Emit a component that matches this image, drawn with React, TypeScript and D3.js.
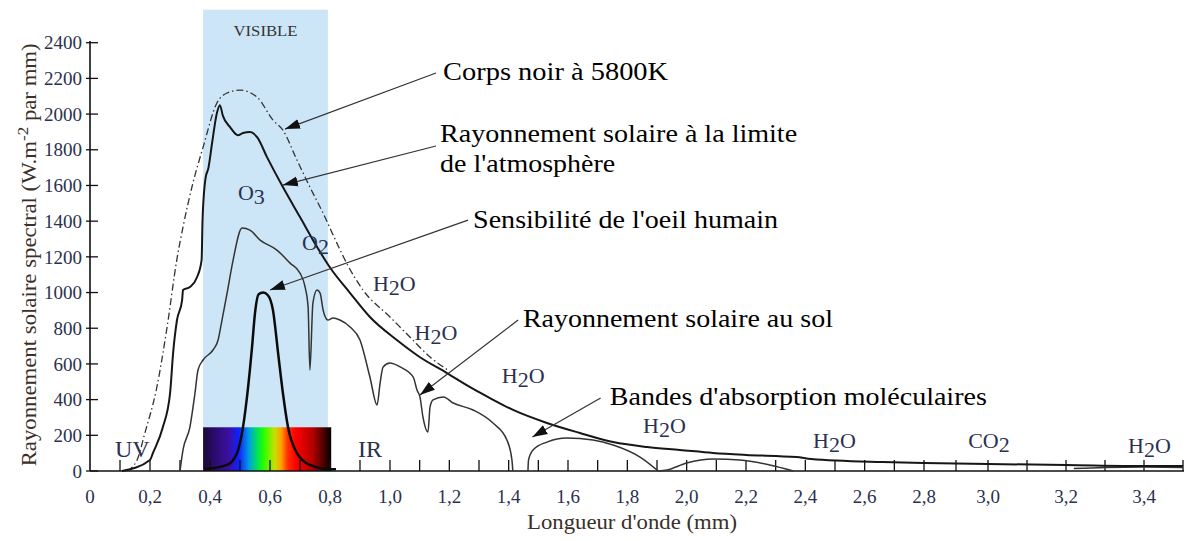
import * as d3 from "d3"

// wavelength (as labelled on the axis) , spectral irradiance
const blackBody: [number, number][] = [
  [0.123, 0], [0.157, 62], [0.183, 213], [0.223, 471], [0.257, 807], [0.29, 1190],
  [0.31, 1367], [0.343, 1613], [0.377, 1815], [0.423, 2062], [0.457, 2118], [0.5, 2134],
  [0.557, 2095], [0.61, 1966], [0.643, 1910], [0.69, 1742], [0.733, 1591], [0.777, 1445],
  [0.823, 1277], [0.86, 1150], [0.91, 1014], [1.0, 863], [1.067, 751], [1.135, 639], [1.2, 560],
]

const solarTop: [number, number][] = [
  [0.107, 0], [0.2, 62], [0.21, 101], [0.243, 246], [0.267, 437], [0.277, 661], [0.29, 846],
  [0.307, 958], [0.31, 1014], [0.333, 1031], [0.357, 1087], [0.372, 1182], [0.375, 1400],
  [0.38, 1560], [0.385, 1640], [0.395, 1700], [0.407, 1838], [0.423, 2006], [0.433, 2050],
  [0.443, 1990], [0.467, 1927], [0.493, 1882], [0.51, 1894], [0.533, 1899], [0.557, 1871],
  [0.59, 1759], [0.643, 1591], [0.7, 1423], [0.757, 1255], [0.8, 1140], [0.867, 997],
  [0.933, 863], [1.023, 734], [1.1, 639], [1.192, 549], [1.27, 470], [1.337, 409],
  [1.415, 342], [1.529, 269], [1.64, 213], [1.752, 162], [1.867, 134], [1.977, 118],
  [2.089, 101], [2.2, 90], [2.37, 78], [2.42, 67], [2.66, 50], [2.8, 45], [3.0, 39],
  [3.2, 34], [3.4, 28], [3.5, 28],
]

const groundVisible: [number, number][] = [
  [0.3, 0], [0.31, 118], [0.333, 246], [0.35, 437], [0.36, 566], [0.377, 622], [0.41, 678],
  [0.427, 734], [0.44, 846], [0.457, 997], [0.477, 1182], [0.507, 1361], [0.533, 1350],
  [0.567, 1294], [0.623, 1238], [0.667, 1165], [0.7, 1109], [0.717, 1031], [0.727, 919],
  [0.733, 566], [0.743, 941], [0.757, 1014], [0.767, 997], [0.777, 902], [0.793, 846],
  [0.81, 857], [0.833, 846], [0.867, 807], [0.9, 734], [0.933, 527], [0.957, 370],
  [0.967, 493], [0.977, 583], [1.0, 605], [1.034, 583], [1.078, 527], [1.091, 454],
  [1.101, 415], [1.111, 303], [1.128, 218], [1.135, 359], [1.145, 398], [1.18, 415],
  [1.213, 381], [1.28, 342], [1.347, 269], [1.394, 174], [1.411, 62], [1.414, 0],
]

const groundNearIR: [number, number][] = [
  [1.465, 0], [1.467, 62], [1.482, 118], [1.529, 162], [1.597, 185], [1.684, 174],
  [1.752, 146], [1.843, 78], [1.904, 0],
]

const groundMidIR: [number, number][] = [
  [1.904, 0], [1.934, 6], [2.0, 45], [2.09, 67], [2.18, 62], [2.28, 34], [2.36, 0],
]

const groundFarIR: [number, number][] = [
  [3.22, 14], [3.3, 20], [3.4, 22], [3.5, 20],
]

const eyeSensitivity: [number, number][] = [
  [0.383, 10], [0.457, 34], [0.49, 100], [0.51, 246], [0.527, 470], [0.54, 692],
  [0.55, 885], [0.562, 990], [0.577, 1000], [0.593, 985], [0.61, 900], [0.627, 661],
  [0.643, 437], [0.66, 246], [0.69, 100], [0.733, 34], [0.8, 10], [0.82, 10],
]

const yTickValues = [0, 200, 400, 600, 800, 1000, 1200, 1400, 1600, 1800, 2000, 2200, 2400]
const xMinorTicks = d3.range(1, 36).map((i) => i / 10)
const xTickLabels = ["0", "0,2", "0,4", "0,6", "0,8", "1,0", "1,2", "1,4", "1,6", "1,8",
  "2,0", "2,2", "2,4", "2,6", "2,8", "3,0", "3,2", "3,4"]

// molecule labels: [main, sub, tail, x, y]
const moleculeLabels: [string, string, string, number, number][] = [
  ["O", "3", "", 0.493, 1518],
  ["O", "2", "", 0.707, 1238],
  ["H", "2", "O", 0.943, 1008],
  ["H", "2", "O", 1.083, 734],
  ["H", "2", "O", 1.377, 493],
  ["H", "2", "O", 1.853, 213],
  ["H", "2", "O", 2.426, 129],
  ["CO", "2", "", 2.938, 129],
  ["H", "2", "O", 3.359, 101],
]

// callouts: text lines, text x/y, text width, arrow from, arrow to
const callouts = [
  { lines: ["Corps noir à 5800K"], x: 1.179, y: 2190, w: [225], from: [1.155, 2230], to: [0.65, 1916] },
  { lines: ["Rayonnement solaire à la limite", "de l'atmosphère"], x: 1.169, y: 1843, w: [357, 175], from: [1.155, 1821], to: [0.643, 1602] },
  { lines: ["Sensibilité de l'oeil humain"], x: 1.28, y: 1361, w: [305], from: [1.263, 1406], to: [0.6, 1014] },
  { lines: ["Rayonnement solaire au sol"], x: 1.448, y: 807, w: [310], from: [1.432, 846], to: [1.101, 426] },
  { lines: ["Bandes d'absorption moléculaires"], x: 1.741, y: 370, w: [377], from: [1.71, 409], to: [1.48, 190] },
]

const spectrumStops = [
  [0, "#1a0a30"], [0.08, "#2a0a6a"], [0.2, "#3a10a0"], [0.28, "#1020ff"], [0.36, "#00a0e0"],
  [0.42, "#00e060"], [0.47, "#20ff00"], [0.56, "#c8e000"], [0.61, "#ffa000"], [0.66, "#ff3000"],
  [0.72, "#ff0000"], [0.86, "#b00000"], [1, "#000000"],
]

const W = 1184
const H = 541
const textColor = "#2a3150"

export default function App() {
  const x = d3.scaleLinear().domain([0, 1, 2.8, 3, 3.5]).range([90, 390, 924, 988, 1183])
  const y = d3.scaleLinear().domain([0, 2400]).range([471, 42.7])

  const line = d3
    .line<[number, number]>()
    .x((d) => x(d[0]))
    .y((d) => y(d[1]))
    .curve(d3.curveMonotoneX)

  const base = y(0)

  return (
    <svg
      width={W}
      height={H}
      style={{ position: "absolute", left: 0, top: 0, background: "#fff" }}
      fontFamily="'Liberation Serif', 'Times New Roman', serif"
    >
      <defs>
        <linearGradient id="spectrum" x1="0" x2="1" y1="0" y2="0">
          {spectrumStops.map(([o, c]) => (
            <stop key={String(o)} offset={String(o)} stopColor={String(c)} />
          ))}
        </linearGradient>
        <marker id="arrow" markerUnits="userSpaceOnUse" markerWidth="16" markerHeight="11"
          refX="15" refY="5.5" orient="auto">
          <path d="M0,0.5 L15,5.5 L0,10.5 Z" fill="#111" />
        </marker>
      </defs>

      {/* visible band */}
      <rect x={x(0.377)} y={y(2585)} width={x(0.793) - x(0.377)} height={base - y(2585)} fill="#cde6f7" />
      <text x={x(0.585)} y={y(2440)} textAnchor="middle" fontSize={15} textLength={64}
        lengthAdjust="spacingAndGlyphs" fill="#333">VISIBLE</text>
      <rect x={x(0.377)} y={y(245)} width={x(0.804) - x(0.377)} height={base - y(245)} fill="url(#spectrum)" />

      {/* axes */}
      <line x1={x(0)} x2={W} y1={base} y2={base} stroke="#111" strokeWidth={1.6} />
      <line x1={x(0)} x2={x(0)} y1={base} y2={y(2410)} stroke="#111" strokeWidth={1.6} />
      {xMinorTicks.map((t) => (
        <line key={t} x1={x(t)} x2={x(t)} y1={base} y2={base - 11} stroke="#111" strokeWidth={1.3} />
      ))}
      {xTickLabels.map((lab, i) => (
        <text key={lab} x={x(i * 0.2)} y={503} textAnchor="middle" fontSize={19} fill={textColor}>{lab}</text>
      ))}
      {yTickValues.map((v) => (
        <g key={v}>
          <line x1={x(0) - 4} x2={x(0) + 8} y1={y(v)} y2={y(v)} stroke="#111" strokeWidth={1.3} />
          <text x={82} y={y(v)} dy="0.35em" textAnchor="end" fontSize={19} fill={textColor}>{v}</text>
        </g>
      ))}
      <text x={632} y={529} textAnchor="middle" fontSize={20} textLength={210}
        lengthAdjust="spacingAndGlyphs" fill="#3a3028">Longueur d'onde (mm)</text>
      <text transform={`translate(36,${y(1200) - 2}) rotate(-90)`} textAnchor="middle" fontSize={20}
        textLength={423} lengthAdjust="spacingAndGlyphs" fill="#3a3028">
        Rayonnement solaire spectral (W.m<tspan dy={-8} fontSize={15}>-2</tspan><tspan dy={8}> par mm)</tspan>
      </text>

      {/* curves */}
      <path d={line(blackBody) ?? ""} fill="none" stroke="#333" strokeWidth={1.3} strokeDasharray="7,3,1.5,3" />
      {[groundVisible, groundNearIR, groundMidIR, groundFarIR].map((seg, i) => (
        <path key={i} d={line(seg) ?? ""} fill="none" stroke="#333" strokeWidth={1.5} />
      ))}
      <path d={line(solarTop) ?? ""} fill="none" stroke="#161616" strokeWidth={2} />
      <path d={line(eyeSensitivity) ?? ""} fill="none" stroke="#0a0a0a" strokeWidth={2.5} />

      {/* band labels */}
      <text x={x(0.083)} y={y(78)} fontSize={24} fill={textColor}>UV</text>
      <text x={x(0.893)} y={y(78)} fontSize={24} fill={textColor}>IR</text>
      {moleculeLabels.map(([a, s, t, lx, ly], i) => (
        <text key={i} x={x(lx)} y={y(ly)} fontSize={22} fill={textColor}>
          {a}<tspan dy={4}>{s}</tspan>{t ? <tspan dy={-4}>{t}</tspan> : null}
        </text>
      ))}

      {/* callouts */}
      {callouts.map((c, i) => (
        <g key={i}>
          <line x1={x(c.from[0])} y1={y(c.from[1])} x2={x(c.to[0])} y2={y(c.to[1])}
            stroke="#333" strokeWidth={1.2} markerEnd="url(#arrow)" />
          {c.lines.map((l, j) => (
            <text key={j} x={x(c.x)} y={y(c.y) + j * 30} fontSize={25} fill="#000"
              textLength={c.w[j]} lengthAdjust="spacingAndGlyphs">{l}</text>
          ))}
        </g>
      ))}
    </svg>
  )
}
